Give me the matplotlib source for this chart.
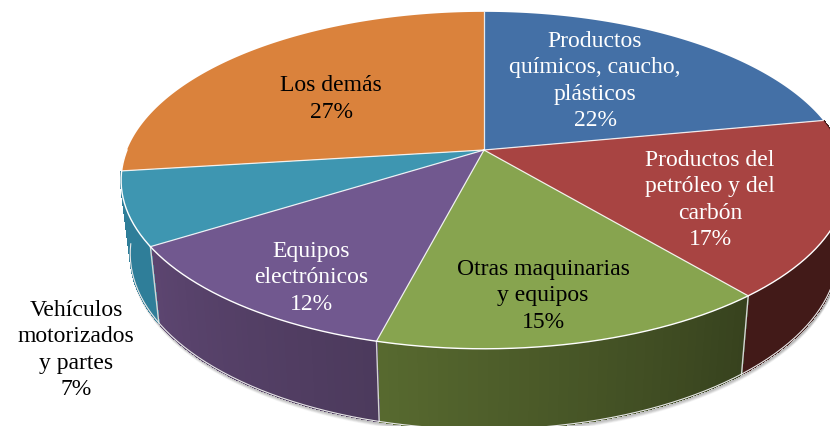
import numpy as np
import matplotlib
matplotlib.use('Agg')
import matplotlib.pyplot as plt

# pie data
categories = ['Productos\nquímicos, caucho,\nplásticos', 'Productos del\npetróleo y del\ncarbón',
              'Otras maquinarias\ny equipos', 'Equipos\nelectrónicos',
              'Vehículos\nmotorizados\ny partes', 'Los demás']
values = [22, 17, 15, 12, 7, 27]

top_colors = ['#4470a6', '#a84442', '#87a44f', '#71588f', '#3e96b1', '#da823c']
wall_left = ['#30507a', '#421a18', '#37421e', '#4c3a5c', '#2f7e99', '#a0602c']
wall_right = ['#30507a', '#421a18', '#57692f', '#5c4570', '#2f7e99', '#a0602c']
text_colors = ['white', 'white', 'black', 'white', 'black', 'black']
label_pos = [(595, 81), (710, 200), (543, 296), (311, 278), (76, 350), (331, 99)]

# perspective of the tilted disc, in pixels
cx, cy = 484, 151
rx, ry = 357, 163
k = 0.18
cx2, cy2 = 484, 223
rx2, ry2 = 348, 170


def project(theta, bottom=False):
    '''
    theta => clockwise angle from the top of the disc, radians
    returns pixel coordinates of the rim
    '''
    u = np.sin(theta)
    v = np.cos(theta)
    d = 1 + k * v
    if bottom:
        return cx2 + rx2 * u / d, cy2 - ry2 * v / d
    return cx + rx * u / d, cy - ry * v / d


def blend(c1, c2, t):
    a = np.array(matplotlib.colors.to_rgb(c1))
    b = np.array(matplotlib.colors.to_rgb(c2))
    return tuple(a + (b - a) * t)


fig = plt.figure(figsize=(8.3, 4.27), dpi=100)
ax = fig.add_axes([0, 0, 1, 1])
ax.set_xlim(0, 830)
ax.set_ylim(427, 0)
ax.axis('off')

edges = np.cumsum([0] + values) / sum(values) * 2 * np.pi
wall_start = edges[1]
wall_end = edges[5]

# soft shadow under the front rim
t = np.linspace(wall_start, wall_end, 200)
sx, sy = project(t, bottom=True)
for i in range(5):
    ax.plot(sx + 1, sy + 1 + i * 0.8, color='#808080', lw=1.5, alpha=0.28 - i * 0.05, zorder=1)

# walls, only the front half can be seen
for i in range(1, 5):
    n = 40
    ts = np.linspace(edges[i], edges[i + 1], n + 1)
    for j in range(n):
        x1, y1 = project(ts[j:j + 2])
        x2, y2 = project(ts[j:j + 2], bottom=True)
        c = blend(wall_left[i], wall_right[i], j / (n - 1))
        ax.fill(np.r_[x1, x2[::-1]], np.r_[y1, y2[::-1]], facecolor=c, edgecolor=c,
                lw=0.8, antialiased=False, zorder=2)
    # light line where two walls meet
    x1, y1 = project(edges[i])
    x2, y2 = project(edges[i], bottom=True)
    if i > 1:
        ax.plot([x1, x2], [y1, y2], color='#d5d5d5', lw=1, zorder=3)

# outline of the bottom rim
ax.plot(sx, sy, color='#e8e8e8', lw=0.8, zorder=3)

# top surface
for i in range(len(values)):
    ts = np.linspace(edges[i], edges[i + 1], 150)
    x, y = project(ts)
    ax.fill(np.r_[cx, x], np.r_[cy, y], facecolor=top_colors[i], edgecolor='none', zorder=4)

for i in range(len(values)):
    x, y = project(edges[i])
    ax.plot([cx, x], [cy, y], color='white', lw=0.9, alpha=0.85, zorder=5)
x, y = project(np.linspace(np.pi * 0.55, np.pi * 1.5, 200))
ax.plot(x, y, color='white', lw=1, zorder=5)

# labels
for i in range(len(values)):
    ax.text(label_pos[i][0], label_pos[i][1], categories[i] + '\n' + str(values[i]) + '%',
            family='Liberation Serif', fontsize=17, color=text_colors[i],
            ha='center', va='center', linespacing=1.34, zorder=6)

fig.savefig('out.png', dpi=100)
